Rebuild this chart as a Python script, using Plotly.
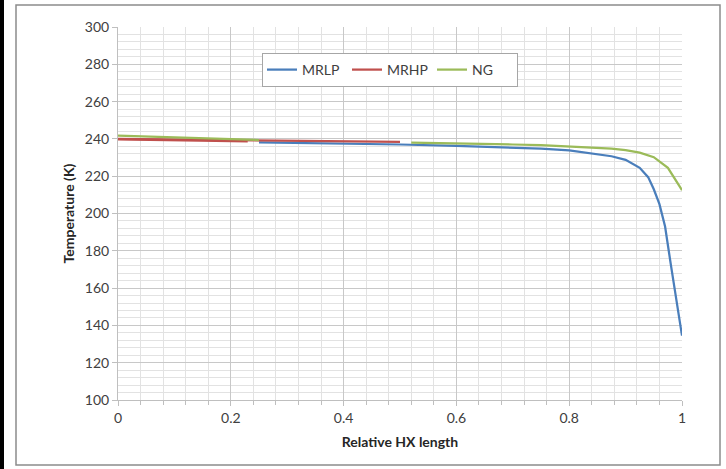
import plotly.graph_objects as go

# ---- data ----
mrlp_x = [0.25, 0.3, 0.4, 0.5, 0.6, 0.7, 0.75, 0.8, 0.85, 0.875, 0.9, 0.925, 0.94, 0.95, 0.96, 0.97, 0.98, 0.99, 1.0]
mrlp_t = [238.2, 238.0, 237.5, 237.0, 236.3, 235.4, 234.8, 233.8, 232.0, 230.7, 228.8, 224.5, 219.5, 213.0, 205.0, 193.0, 173.0, 153.0, 134.5]

mrhp_x = [0.0, 0.1, 0.2, 0.3, 0.4, 0.5]
mrhp_t = [240.0, 239.7, 239.4, 239.1, 238.8, 238.4]

mrhp2_x = [0.0, 0.1, 0.23]
mrhp2_t = [239.8, 239.3, 238.7]

ng1_x = [0.0, 0.1, 0.2, 0.25]
ng1_t = [241.7, 240.9, 240.0, 239.4]

ng2_x = [0.52, 0.55, 0.6, 0.65, 0.7, 0.75, 0.8, 0.85, 0.875, 0.9, 0.925, 0.95, 0.975, 1.0]
ng2_t = [238.0, 237.9, 237.6, 237.3, 237.0, 236.6, 236.0, 235.3, 234.8, 234.0, 232.6, 230.2, 224.5, 212.5]

x_ticks = [0, 0.2, 0.4, 0.6, 0.8, 1]
x_tick_text = ["0", "0.2", "0.4", "0.6", "0.8", "1"]
y_ticks = [100, 120, 140, 160, 180, 200, 220, 240, 260, 280, 300]

BLUE = "#4A7EBB"
RED = "#C0504D"
GREEN = "#9BBB59"
LW = 2.25
FONT = "Lato, 'Open Sans', sans-serif"

fig = go.Figure()
fig.add_trace(go.Scatter(x=mrlp_x, y=mrlp_t, mode="lines", name="MRLP",
                         line=dict(color=BLUE, width=LW)))
fig.add_trace(go.Scatter(x=mrhp_x, y=mrhp_t, mode="lines", name="MRHP",
                         line=dict(color=RED, width=LW)))
fig.add_trace(go.Scatter(x=mrhp2_x, y=mrhp2_t, mode="lines", name="MRHP",
                         line=dict(color=RED, width=LW), showlegend=False))
fig.add_trace(go.Scatter(x=ng1_x, y=ng1_t, mode="lines", name="NG",
                         line=dict(color=GREEN, width=LW), legendgroup="ng"))
fig.add_trace(go.Scatter(x=ng2_x, y=ng2_t, mode="lines", name="NG",
                         line=dict(color=GREEN, width=LW), legendgroup="ng", showlegend=False))

L, R, T, B = 118, 44, 27, 69
W, H = 726, 469
PW, PH = W - L - R, H - T - B

def px(xp):
    return (xp - L) / PW

def py(yp):
    return (H - B - yp) / PH

shapes = [
    dict(type="rect", xref="paper", yref="paper",
         x0=px(16), x1=px(720), y0=py(465), y1=py(5),
         line=dict(color="#8c8c8c", width=1.5), fillcolor="rgba(0,0,0,0)", layer="below"),
    dict(type="rect", xref="paper", yref="paper",
         x0=px(-2), x1=px(4), y0=py(472), y1=py(-3),
         line=dict(width=0), fillcolor="black", layer="above"),
]

fig.update_layout(
    width=W, height=H,
    margin=dict(l=L, r=R, t=T, b=B, autoexpand=False),
    paper_bgcolor="white", plot_bgcolor="white",
    font=dict(family=FONT, size=14, color="#404040"),
    showlegend=True,
    legend=dict(orientation="h", x=px(262), y=py(53), xanchor="left", yanchor="top",
                bordercolor="#a6a6a6", borderwidth=1, bgcolor="white",
                itemwidth=30, entrywidth=40, entrywidthmode="pixels",
                font=dict(family=FONT, size=14, color="#404040")),
    shapes=shapes,
    xaxis=dict(range=[0, 1], tickvals=x_ticks, ticktext=x_tick_text, automargin=False,
               showgrid=True, gridcolor="#c8c8c8", gridwidth=1,
               showline=True, linecolor="#bfbfbf", linewidth=1,
               ticks="outside", ticklen=5, tickcolor="#bfbfbf",
               minor=dict(dtick=0.04, showgrid=True, gridcolor="#e2e2e2", gridwidth=1,
                          ticks="outside", ticklen=4, tickcolor="#bfbfbf"),
               zeroline=False,
               title=dict(text="<b>Relative HX length</b>", standoff=12,
                          font=dict(family=FONT, size=14, color="#262626"))),
    yaxis=dict(range=[100, 300], tickvals=y_ticks, automargin=False,
               showgrid=True, gridcolor="#c8c8c8", gridwidth=1,
               showline=True, linecolor="#bfbfbf", linewidth=1,
               ticks="outside", ticklen=5, tickcolor="#bfbfbf",
               minor=dict(dtick=4, showgrid=True, gridcolor="#e2e2e2", gridwidth=1),
               zeroline=False,
               title=dict(text="<b>Temperature (K)</b>", standoff=6,
                          font=dict(family=FONT, size=14, color="#262626"))),
)

fig.write_html("out.html", config={"displayModeBar": False},
               post_script="document.body.style.margin='0';document.body.style.overflow='hidden';")
